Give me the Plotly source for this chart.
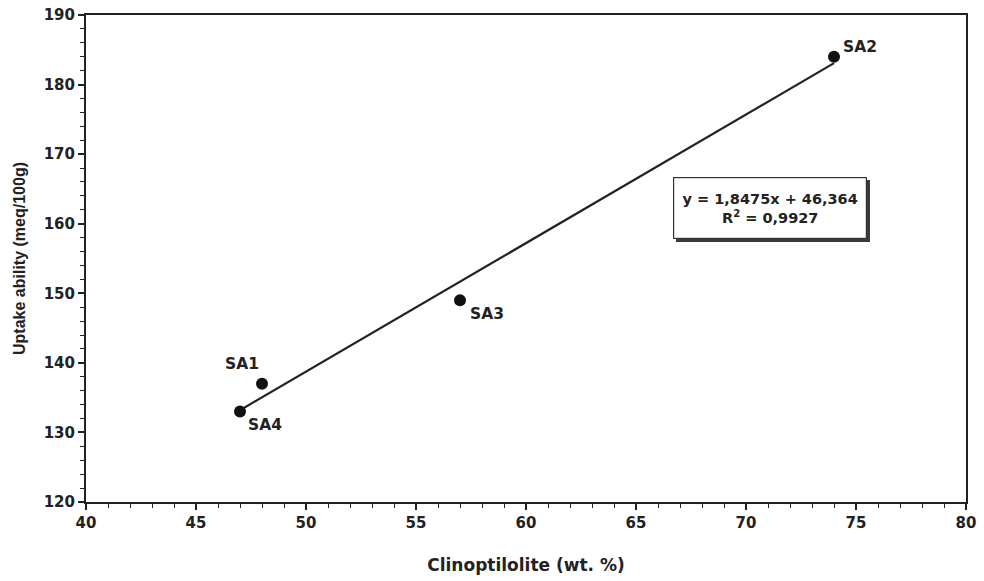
import plotly.graph_objects as go

names = ["SA1", "SA2", "SA3", "SA4"]
clino = [48, 74, 57, 47]
uptake = [137, 184, 149, 133]
slope, intercept = 1.8475, 46.364
fit_x = [47, 74]
fit_y = [slope * v + intercept for v in fit_x]

wide = "DejaVu Sans, Verdana, sans-serif"
narrow = "Liberation Sans, Arial, sans-serif"
ink = "#222222"

fig = go.Figure()
fig.add_trace(go.Scatter(x=fit_x, y=fit_y, mode="lines",
                         line=dict(color=ink, width=2.2), showlegend=False))
fig.add_trace(go.Scatter(x=clino, y=uptake, mode="markers",
                         marker=dict(color="#111111", size=12), showlegend=False))

label_cfg = {
    "SA1": dict(xanchor="right", yanchor="bottom", xshift=-1, yshift=9),
    "SA2": dict(xanchor="left", yanchor="bottom", xshift=7, yshift=-1),
    "SA3": dict(xanchor="left", yanchor="top", xshift=8, yshift=-3),
    "SA4": dict(xanchor="left", yanchor="top", xshift=6, yshift=-2),
}
for n, x, y in zip(names, clino, uptake):
    fig.add_annotation(x=x, y=y, text=n, showarrow=False,
                       font=dict(family=wide, size=15.5, color=ink, weight="bold"),
                       **label_cfg[n])

eq_text = "y = 1,8475x + 46,364<br>R<sup>2</sup> = 0,9927"
eq_x, eq_y = 71.1, 162.2
# shadow box
fig.add_annotation(x=eq_x, y=eq_y, text=" ", showarrow=False,
                   width=190, height=58, bgcolor="#3a3a3a", borderpad=1,
                   borderwidth=1, bordercolor="#3a3a3a", xshift=3, yshift=-3)
fig.add_annotation(x=eq_x, y=eq_y, text=eq_text, showarrow=False,
                   width=190, height=58, align="center",
                   font=dict(family=wide, size=14.5, color=ink, weight="bold"),
                   bgcolor="white", borderpad=1, borderwidth=1.2,
                   bordercolor="#333333")

axis_common = dict(showgrid=False, zeroline=False, showline=True, linecolor=ink,
                   linewidth=2, mirror=True, ticks="outside", ticklen=6,
                   tickwidth=1.5, tickcolor=ink, automargin=False,
                   tickfont=dict(family=wide, size=15, color=ink, weight="bold"))

fig.update_xaxes(range=[40, 80], dtick=5, tick0=40,
                 minor=dict(dtick=1, ticks="outside", ticklen=4, tickcolor=ink, tickwidth=1.2),
                 title=dict(text="Clinoptilolite (wt. %)",
                            font=dict(family=wide, size=17, color=ink, weight="bold"),
                            standoff=28),
                 **axis_common)
fig.update_yaxes(range=[120, 190], dtick=10, tick0=120,
                 minor=dict(dtick=2, ticks="outside", ticklen=4, tickcolor=ink, tickwidth=1.2),
                 title=dict(text="Uptake ability (meq/100g)",
                            font=dict(family=narrow, size=16, color=ink, weight="bold"),
                            standoff=14),
                 **axis_common)

fig.update_layout(width=984, height=581, plot_bgcolor="white", paper_bgcolor="white",
                  margin=dict(l=86, r=18, t=15, b=79))

fig.write_html("out.html")
